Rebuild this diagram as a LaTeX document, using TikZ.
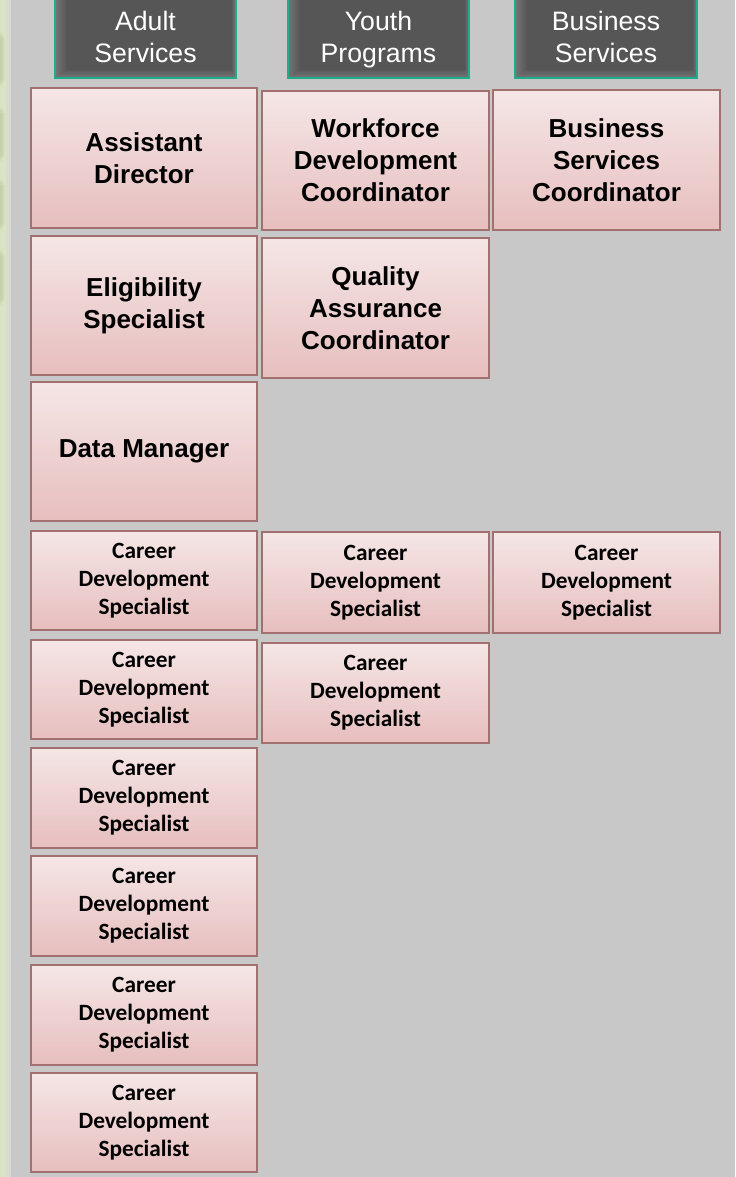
\documentclass[tikz,border=0pt]{standalone}
\usepackage{fontspec}
\setmainfont{Liberation Sans}
\newfontfamily\calibrifont{Carlito}
\definecolor{bggray}{HTML}{C8C8C8}
\definecolor{stripgreen}{HTML}{DAE4C5}
\definecolor{striplight}{HTML}{D9DBD2}
\definecolor{bandgreen}{HTML}{A9B592}
\definecolor{hdbase}{HTML}{737373}
\definecolor{hdedge}{HTML}{1DAD8A}
\definecolor{boxtop}{HTML}{F5E6E6}
\definecolor{boxbottom}{HTML}{E7BEBE}
\definecolor{boxborder}{HTML}{A37070}
\tikzset{
  rolebox/.style={draw=boxborder, line width=1.1pt, top color=boxtop,
    bottom color=boxbottom, align=center, inner sep=2pt, text=black},
  bigrole/.style={rolebox, font=\fontsize{19.5pt}{24pt}\selectfont\bfseries},
  smallrole/.style={rolebox, font=\calibrifont\fontsize{17.5pt}{21pt}\selectfont\bfseries},
  headbox/.style={draw=hdedge, line width=1.2pt, align=center, text=white,
    font=\fontsize{20pt}{24pt}\selectfont},
}
% \orgbox{style}{name}{x1}{y1}{x2}{y2}{text}: box given by its corners in pixels
\newcommand\orgbox[7]{%
  \node[#1, minimum width={(#5-#3)*0.75pt}, minimum height={(#6-#4)*0.75pt}]
    (#2) at ({(#3+#5)/2},{(#4+#6)/2}) {#7};}
% \headfill{x1}{x2}{y2}: dark header panel with a soft inner shade
\newcommand\headfill[3]{%
  \fill[hdbase] (#1,-4) rectangle (#2,#3);
  \foreach \k in {1,...,6}{
    \fill[black, opacity=0.045] ({#1+2*\k},-4) rectangle ({#2-0.7*\k},{#3-1.4*\k});
  }}
% two-line header text with fixed line heights
\newcommand\hdtext[2]{\rule{0pt}{21.3pt}#1\\#2\strut}
\begin{document}
\begin{tikzpicture}[x=0.75pt,y=-0.75pt]
\useasboundingbox (0,0) rectangle (735,1177);
% page background and left margin strip
\fill[bggray] (0,0) rectangle (735,1177);
\fill[stripgreen] (0,0) rectangle (6,1177);
\fill[striplight] (6,0) rectangle (11,1177);
\foreach \ya/\yb in {30/88,105/163,177/232,248/307}{
  \foreach \w in {1,2,3,4}{
    \fill[bandgreen, opacity=0.12] (0,{\ya+2*\w}) rectangle ({1+\w},{\yb-2*\w});
  }
}

% column headers
\headfill{55}{236}{78}
\headfill{288}{469}{78}
\headfill{515}{697}{78}
\orgbox{headbox}{hdAdult}{55}{-4}{236}{78}{\hdtext{Adult}{Services}}
\orgbox{headbox}{hdYouth}{288}{-4}{469}{78}{\hdtext{Youth}{Programs}}
\orgbox{headbox}{hdBusiness}{515}{-4}{697}{78}{\hdtext{Business}{Services}}

% Adult Services column
\orgbox{bigrole}{asstDir}{31}{88}{257}{228}{Assistant\\Director}
\orgbox{bigrole}{eligSpec}{31}{236}{257}{375}{Eligibility\\Specialist}
\orgbox{bigrole}{dataMgr}{31}{382}{257}{521}{Data Manager}
\orgbox{smallrole}{cdsA1}{31}{531}{257}{630}{Career\\Development\\Specialist}
\orgbox{smallrole}{cdsA2}{31}{640}{257}{739}{Career\\Development\\Specialist}
\orgbox{smallrole}{cdsA3}{31}{748}{257}{848}{Career\\Development\\Specialist}
\orgbox{smallrole}{cdsA4}{31}{856}{257}{956}{Career\\Development\\Specialist}
\orgbox{smallrole}{cdsA5}{31}{965}{257}{1065}{Career\\Development\\Specialist}
\orgbox{smallrole}{cdsA6}{31}{1073}{257}{1172}{Career\\Development\\Specialist}

% Youth Programs column
\orgbox{bigrole}{wfDev}{262}{91}{489}{230}{Workforce\\Development\\Coordinator}
\orgbox{bigrole}{qaCoord}{262}{238}{489}{378}{Quality\\Assurance\\Coordinator}
\orgbox{smallrole}{cdsY1}{262}{532}{489}{633}{Career\\Development\\Specialist}
\orgbox{smallrole}{cdsY2}{262}{643}{489}{743}{Career\\Development\\Specialist}

% Business Services column
\orgbox{bigrole}{bsCoord}{493}{90}{720}{230}{Business\\Services\\Coordinator}
\orgbox{smallrole}{cdsB1}{493}{532}{720}{633}{Career\\Development\\Specialist}
\end{tikzpicture}
\end{document}
